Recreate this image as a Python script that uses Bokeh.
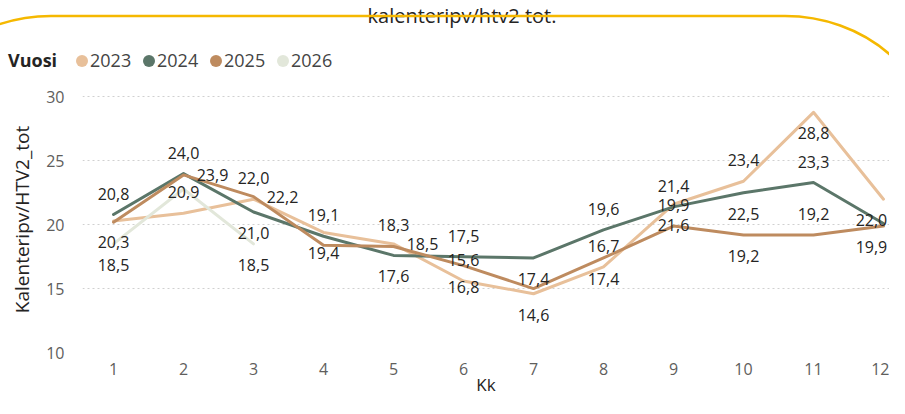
from bokeh.plotting import figure
from bokeh.layouts import column
from bokeh.models import ColumnDataSource, FixedTicker, Div
from bokeh.core.properties import value
from bokeh.embed import file_html
from bokeh.resources import INLINE

# ---------------- data ----------------
months = [1, 2, 3, 4, 5, 6, 7, 8, 9, 10, 11, 12]
years = ["2023", "2024", "2025", "2026"]
v2023 = [20.3, 20.9, 22.0, 19.4, 18.5, 15.6, 14.6, 16.7, 21.6, 23.4, 28.8, 22.0]
v2024 = [20.8, 24.0, 21.0, 19.1, 17.6, 17.5, 17.4, 19.6, 21.4, 22.5, 23.3, 20.1]
v2025 = [20.2, 23.9, 22.2, 18.4, 18.3, 16.8, 15.0, 17.4, 19.9, 19.2, 19.2, 19.9]
v2026 = [18.5, 22.8, 18.5]
y_ticks = [10, 15, 20, 25, 30]
title_text = "kalenteripv/htv2 tot."
legend_title = "Vuosi"

# label placement per point: a=above, b=below, r=right, n=none
pos2023 = ["b", "a", "a", "b", "r", "a", "b", "a", "b", "a", "b", "b"]
pos2024 = ["a", "a", "b", "a", "b", "a", "b", "a", "a", "b", "a", "n"]
pos2025 = ["n", "r", "r", "n", "a", "b", "n", "b", "a", "b", "a", "b"]
pos2026 = ["b", "n", "b"]

colors = {"2023": "#E8C09A", "2024": "#5B7669", "2025": "#BE8B5F", "2026": "#E2E7DA"}
series = {"2023": (v2023, pos2023), "2024": (v2024, pos2024),
          "2025": (v2025, pos2025), "2026": (v2026, pos2026)}

FONT = "Open Sans"
W = 889
HH = 78          # header height
HM = 398 - HH    # main plot height

# ---------------- header (title, legend, decorative yellow frame) ----------------
items_html = ""
for i, yr in enumerate(years):
    left = 76 + i * 67
    items_html += (
        f'<span style="position:absolute;left:{left}px;top:55px;width:12px;height:12px;'
        f'border-radius:50%;background:{colors[yr]};"></span>'
        f'<span style="position:absolute;left:{left + 14}px;top:48px;font-size:18px;'
        f'line-height:24px;color:#444444;">{yr}</span>'
    )
header_html = (
    f'<div style="position:relative;width:{W}px;height:{HH}px;overflow:hidden;'
    f'font-family:\'{FONT}\';background:white;">'
    f'<div style="position:absolute;left:0;top:3px;width:924px;text-align:center;'
    f'font-size:20px;line-height:26px;color:#252423;white-space:nowrap;">{title_text}</div>'
    f'<span style="position:absolute;left:8px;top:48px;font-size:18px;line-height:24px;'
    f'font-weight:bold;color:#252423;">{legend_title}</span>'
    f'{items_html}'
    f'<svg width="{W}" height="{HH}" style="position:absolute;left:0;top:0;">'
    f'<path d="M -99 151 A 150 135 0 0 1 51 16 L 785 16 A 150 135 0 0 1 935 151" '
    f'stroke="#F5B800" stroke-width="2.5" fill="none"/></svg>'
    f'</div>'
)
head = Div(text=header_html, width=W, height=HH, margin=0)

# ---------------- main chart ----------------
p = figure(width=W, height=HM, output_backend="svg", toolbar_location=None,
           x_range=(0.557, 12.086), y_range=(10, 30.82),
           min_border_left=82, min_border_right=0, min_border_top=8,
           min_border_bottom=0, margin=0)
p.outline_line_color = None
p.background_fill_color = "white"

p.xaxis.ticker = FixedTicker(ticks=months)
p.yaxis.ticker = FixedTicker(ticks=y_ticks)
for ax in (p.xaxis[0], p.yaxis[0]):
    ax.axis_line_color = None
    ax.major_tick_line_color = None
    ax.minor_tick_line_color = None
    ax.major_label_text_font = FONT
    ax.major_label_text_font_size = "16px"
    ax.major_label_text_color = "#605E5C"
    ax.axis_label_text_font = FONT
    ax.axis_label_text_font_style = "normal"
    ax.axis_label_text_color = "#252423"
p.xaxis.axis_label = "Kk"
p.yaxis.axis_label = "Kalenteripv/HTV2_tot"
p.xaxis.axis_label_text_font_size = "17px"
p.yaxis.axis_label_text_font_size = "19px"
p.xaxis.major_label_standoff = 4
p.xaxis.axis_label_standoff = -5
p.yaxis.major_label_standoff = 12
p.yaxis.axis_label_standoff = 8

p.xgrid.grid_line_color = None
p.ygrid.grid_line_color = "#D0D0D0"
p.ygrid.grid_line_dash = "2 3"
p.ygrid.grid_line_width = 1

for yr in years:
    vals, pos = series[yr]
    src = ColumnDataSource(data=dict(x=months[:len(vals)], y=vals))
    p.line("x", "y", source=src, line_color=colors[yr], line_width=3,
           line_join="round", line_cap="round")

for yr in years:
    vals, pos = series[yr]
    lx, ly, lt, xo, yo = [], [], [], [], []
    for m, v, ps in zip(months, vals, pos):
        if ps == "n":
            continue
        lx.append(m)
        ly.append(v)
        lt.append(f"{v:.1f}".replace(".", ","))
        shift = -12 if m == months[-1] else 0
        xo.append((29 if ps == "r" else 0) + shift)
        yo.append(-21 if ps == "a" else (21 if ps == "b" else 0))
    lsrc = ColumnDataSource(data=dict(x=lx, y=ly, t=lt, xo=xo, yo=yo))
    p.text("x", "y", text="t", source=lsrc, x_offset="xo", y_offset="yo",
           text_align="center", text_baseline="middle",
           text_font=value(FONT), text_font_size="16px", text_color="#252423")

layout = column(head, p, spacing=0)
open("out.html", "w").write(file_html(layout, INLINE))
